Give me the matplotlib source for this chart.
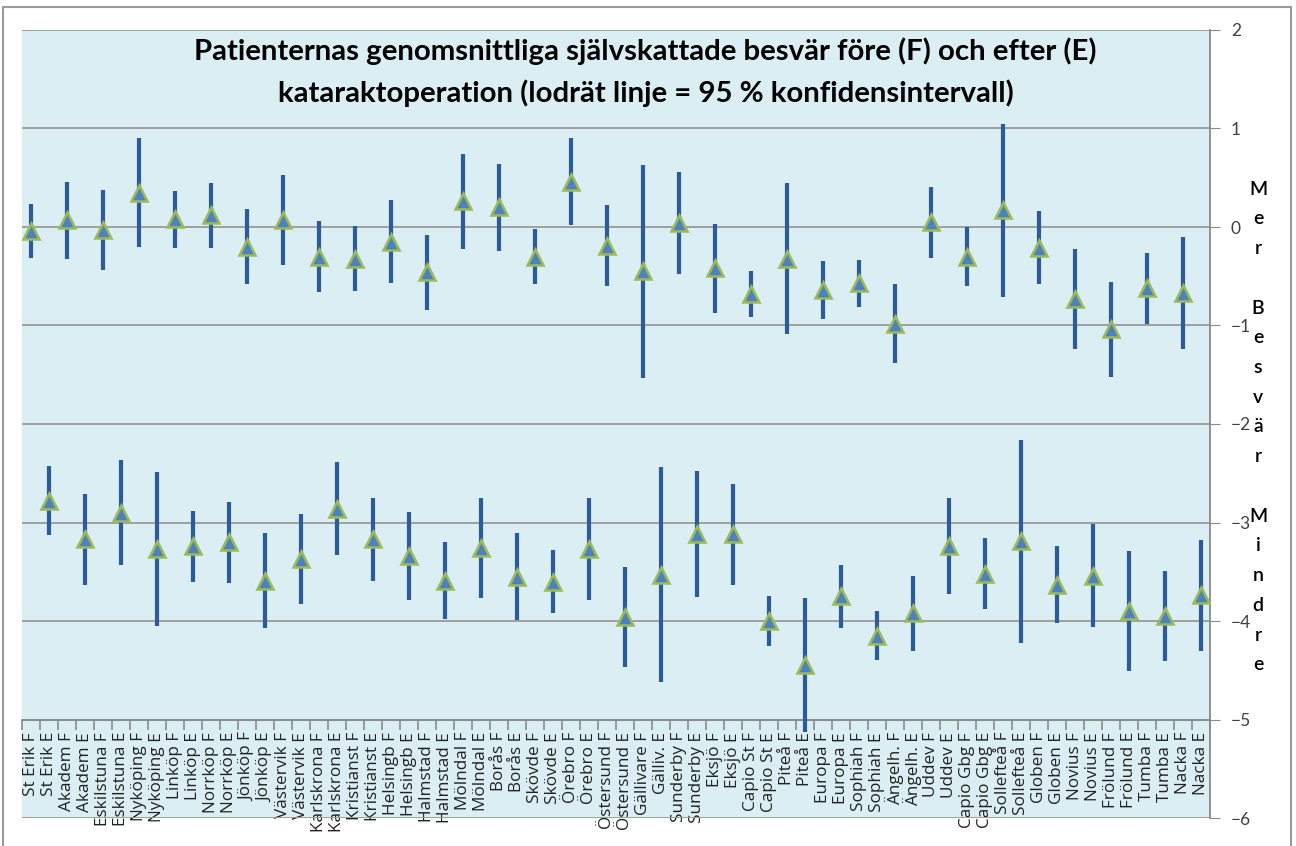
import matplotlib
matplotlib.use("Agg")
import matplotlib.pyplot as plt
import numpy as np
from matplotlib.patches import Rectangle

plt.rcParams['font.family'] = ['Lato', 'DejaVu Sans']

labels = ["St Erik F", "St Erik E", "Akadem F", "Akadem E", "Eskilstuna F", "Eskilstuna E",
          "Nyköping F", "Nyköping E", "Linköp F", "Linköp E", "Norrköp F", "Norrköp E",
          "Jönköp F", "Jönköp E", "Västervik F", "Västervik E", "Karlskrona F", "Karlskrona E",
          "Kristianst F", "Kristianst E", "Helsingb F", "Helsingb E", "Halmstad F", "Halmstad E",
          "Mölndal F", "Mölndal E", "Borås F", "Borås E", "Skövde F", "Skövde E",
          "Örebro F", "Örebro E", "Östersund F", "Östersund E", "Gällivare F", "Gälliv. E",
          "Sunderby F", "Sunderby E", "Eksjö F", "Eksjö E", "Capio St F", "Capio St E",
          "Piteå F", "Piteå E", "Europa F", "Europa E", "Sophiah F", "Sophiah E",
          "Ängelh. F", "Ängelh. E", "Uddev F", "Uddev E", "Capio Gbg F", "Capio Gbg E",
          "Sollefteå F", "Sollefteå E", "Globen F", "Globen E", "Novius F", "Novius E",
          "Frölund F", "Frölund E", "Tumba F", "Tumba E", "Nacka F", "Nacka E"]

# före (F): mean and half width of 95 % CI
f_mean = [-0.04, 0.07, -0.03, 0.35, 0.08, 0.12, -0.20, 0.07, -0.30, -0.32, -0.15, -0.46,
          0.26, 0.20, -0.30, 0.46, -0.19, -0.45, 0.04, -0.42, -0.68, -0.32, -0.64, -0.57,
          -0.98, 0.05, -0.30, 0.17, -0.21, -0.73, -1.04, -0.62, -0.67]
f_err = [0.27, 0.39, 0.41, 0.55, 0.29, 0.33, 0.38, 0.46, 0.36, 0.33, 0.42, 0.38,
         0.48, 0.44, 0.28, 0.44, 0.41, 1.08, 0.52, 0.45, 0.23, 0.77, 0.29, 0.24,
         0.40, 0.36, 0.30, 0.88, 0.37, 0.51, 0.48, 0.36, 0.57]

# efter (E)
e_mean = [-2.78, -3.17, -2.90, -3.27, -3.24, -3.20, -3.59, -3.37, -2.86, -3.17, -3.34, -3.59,
          -3.26, -3.55, -3.60, -3.27, -3.96, -3.53, -3.12, -3.12, -4.00, -4.45, -3.75, -4.15,
          -3.92, -3.24, -3.52, -3.19, -3.63, -3.54, -3.90, -3.95, -3.74]
e_err = [0.35, 0.46, 0.53, 0.78, 0.36, 0.41, 0.48, 0.46, 0.47, 0.42, 0.45, 0.39,
         0.51, 0.44, 0.32, 0.52, 0.51, 1.09, 0.64, 0.51, 0.25, 0.68, 0.32, 0.25,
         0.38, 0.49, 0.36, 1.03, 0.39, 0.52, 0.61, 0.46, 0.56]

title = ("Patienternas genomsnittliga självskattade besvär före (F) och efter (E)\n"
         "kataraktoperation (lodrät linje = 95 % konfidensintervall)")
side_label = "Mer Besvär Mindre"

W, H = 1296, 846
fig = plt.figure(figsize=(W / 100, H / 100), dpi=100)
fig.patch.set_facecolor('white')

# outer chart border
fig.add_artist(Rectangle((3 / W, -0.05), 1288 / W, 1.05 - 7 / H, transform=fig.transFigure,
                         fill=False, edgecolor='#9a9a9a', linewidth=1.5, clip_on=False))

ax = fig.add_axes([22 / W, (H - 818) / H, (1210 - 22) / W, (818 - 30) / H])
ax.set_facecolor('#DAEEF3')

x = np.arange(1, len(labels) + 1)
xf = x[0::2]
xe = x[1::2]

for xs, m, e in [(xf, f_mean, f_err), (xe, e_mean, e_err)]:
    ax.errorbar(xs, m, yerr=e, fmt='none', ecolor='#2D5B97', elinewidth=3.0, capsize=0,
                zorder=3, clip_on=False)
    ax.plot(xs, m, linestyle='none', marker='^', markersize=12, markerfacecolor='#4F81BD',
            markeredgecolor='#9BBB59', markeredgewidth=1.8, zorder=4, clip_on=False)

ax.set_xlim(0.5, len(labels) + 0.5)
ax.set_ylim(-6, 2)
ax.set_yticks(np.arange(-6, 3, 1))
ax.yaxis.tick_right()
ax.grid(axis='y', color='#9a9a9a', linewidth=1.3, zorder=1)
ax.set_axisbelow(True)
ax.tick_params(axis='y', direction='out', length=7, color='#8a8a8a', labelsize=12.5,
               labelcolor='#404040', pad=8)

# category axis crosses at -5
ax.spines['bottom'].set_position(('data', -5))
ax.spines['bottom'].set_color('#8a8a8a')
ax.spines['bottom'].set_linewidth(1.3)
ax.spines['top'].set_visible(False)
ax.spines['left'].set_visible(False)
ax.spines['right'].set_color('#8a8a8a')
ax.spines['right'].set_linewidth(1.3)
ax.set_xticks(x)
ax.set_xticklabels(labels, rotation=90, color='#222222')
ax.set_xticks(np.arange(0.5, len(labels) + 1, 1), minor=True)
ax.tick_params(axis='x', which='major', length=0, pad=9)
ax.tick_params(axis='x', which='minor', length=7, direction='out', color='#8a8a8a', width=1.2)
for t in ax.get_xticklabels():
    t.set_verticalalignment('top')
    t.set_fontfamily(['Open Sans', 'DejaVu Sans'])
    t.set_fontsize(12.3)

ax.text(0.525, 0.99, title, transform=ax.transAxes, ha='center', va='top',
        fontsize=21.2, fontweight='bold', linespacing=1.6, color='black')

fig.text(1258 / W, 1 - 427 / H, "\n".join(side_label), ha='center', va='center',
         fontsize=14, linespacing=1.91, fontweight='semibold', color='black')

fig.savefig('out.png', dpi=100)
